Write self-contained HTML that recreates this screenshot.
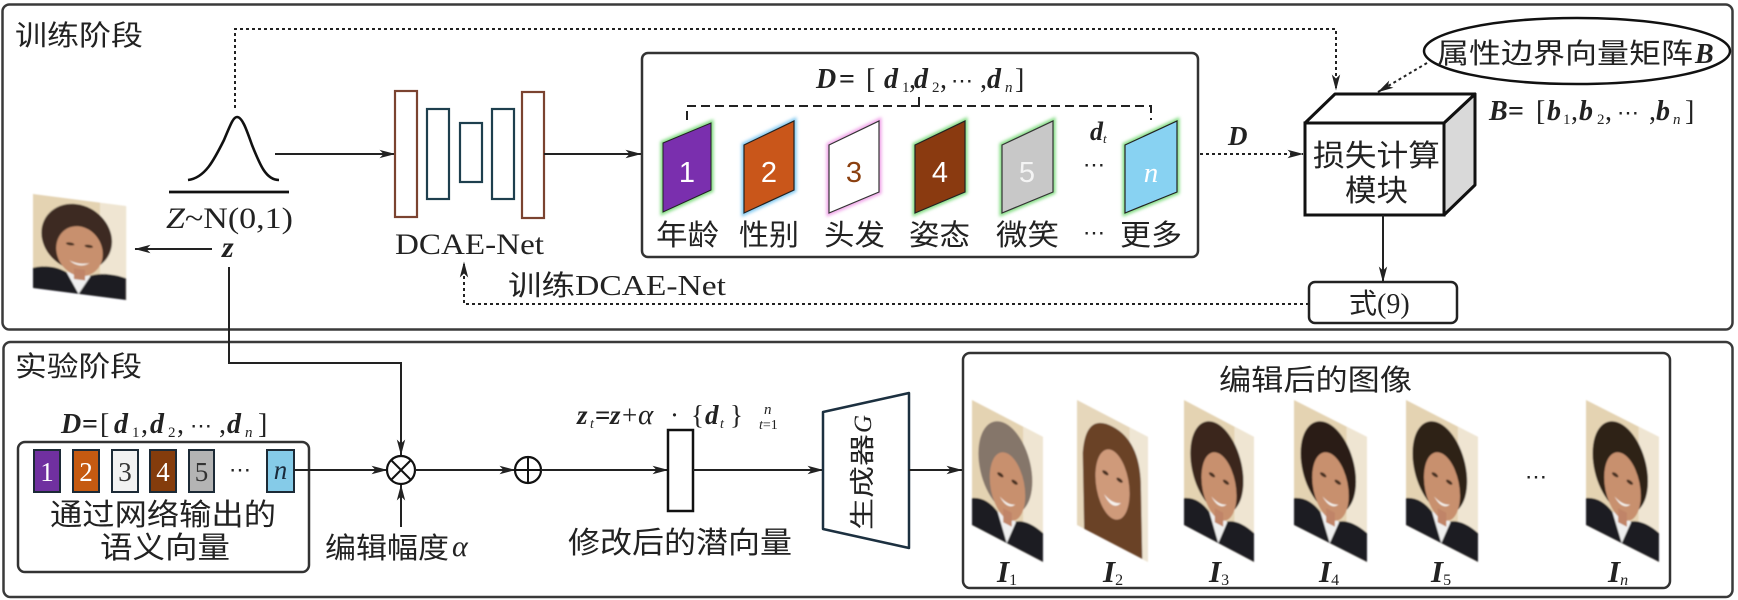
<!DOCTYPE html>
<html><head><meta charset="utf-8"><style>
html,body{margin:0;padding:0;background:#fff;}
svg{display:block;}
.cj{font-family:"Liberation Sans","Noto Sans CJK SC",sans-serif;fill:#222;}
.sr{font-family:"Liberation Serif","DejaVu Serif",serif;fill:#222;}
.bi{font-weight:bold;font-style:italic;}
.it{font-style:italic;}
</style></head><body>
<svg width="1738" height="600" viewBox="0 0 1738 600" xmlns="http://www.w3.org/2000/svg">
<defs>
<marker id="ah" viewBox="0 0 16 10" refX="15.5" refY="5" markerWidth="16" markerHeight="10" markerUnits="userSpaceOnUse" orient="auto"><path d="M0,0.8 L16,5 L0,9.2 L4,5z" fill="#222"/></marker>
<filter id="bl" x="-20%" y="-20%" width="140%" height="140%"><feGaussianBlur stdDeviation="0.9"/></filter>
<filter id="gl" x="-30%" y="-30%" width="160%" height="160%"><feGaussianBlur stdDeviation="1.6"/></filter>
<g id="faceM">
 <rect width="100" height="125" fill="#e4d3b2"/>
 <rect x="72" width="28" height="125" fill="#efe5d2"/>
 <ellipse cx="47" cy="50" rx="38" ry="44" fill="currentColor"/>
 <path d="M0,98 Q28,86 48,108 Q70,88 100,96 L100,125 L0,125Z" fill="#1e1e24"/>
 <path d="M36,98 L49,125 L62,99 Z" fill="#efefef"/>
 <ellipse cx="50" cy="68" rx="25" ry="33" fill="#c8906e"/>
 <rect x="44" y="92" width="12" height="14" fill="#c08468"/>
 <ellipse cx="40" cy="60" rx="4.5" ry="2" fill="#4a3020"/>
 <ellipse cx="60" cy="60" rx="4.5" ry="2" fill="#4a3020"/>
 <path d="M39,82 Q50,92 61,82 Q50,87 39,82Z" fill="#f4f0ea"/>
</g>
<g id="faceW">
 <rect width="100" height="125" fill="#e6d7bb"/>
 <rect x="74" width="26" height="125" fill="#efe6d4"/>
 <path d="M10,125 L8,50 Q12,8 50,8 Q88,8 90,50 L92,125Z" fill="#6a4228"/>
 <ellipse cx="50" cy="66" rx="24" ry="34" fill="#cf9a7a"/>
 <ellipse cx="40" cy="58" rx="4.5" ry="2" fill="#4a3020"/>
 <ellipse cx="60" cy="58" rx="4.5" ry="2" fill="#4a3020"/>
 <path d="M38,80 Q50,93 62,80 Q50,86 38,80Z" fill="#f6f2ee"/>
</g>
</defs>

<!-- outer boxes -->
<rect x="2.5" y="4.5" width="1730" height="325" rx="7" fill="none" stroke="#3a3a3a" stroke-width="2.5"/>
<rect x="3.5" y="342" width="1729" height="255" rx="7" fill="none" stroke="#3a3a3a" stroke-width="2.5"/>

<text class="cj" x="15" y="45" font-size="28" textLength="128" lengthAdjust="spacingAndGlyphs">训练阶段</text>
<text class="cj" x="15" y="376" font-size="28" textLength="127" lengthAdjust="spacingAndGlyphs">实验阶段</text>

<!-- gaussian -->
<path d="M188,180 C205,178 214,160 224,140 C230,126 233,117 237,117 C242,117 246,128 252,145 C260,165 266,180 279,180" fill="none" stroke="#111" stroke-width="2.6"/>
<line x1="169" y1="192" x2="289" y2="192" stroke="#111" stroke-width="2.8"/>
<text class="sr" x="166" y="228" font-size="30" textLength="127" lengthAdjust="spacingAndGlyphs"><tspan class="it">Z</tspan>~N(0,1)</text>
<text class="sr bi" x="222" y="257" font-size="30">z</text>

<!-- dotted top route -->
<path d="M235,108 V29 H1336 V90" fill="none" stroke="#222" stroke-width="2" stroke-dasharray="3,3" marker-end="url(#ah)"/>

<!-- top left face -->
<g transform="matrix(0.93,0.12,0,0.752,33,194)" filter="url(#bl)"><use href="#faceM" color="#3c2a20"/></g>
<line x1="212" y1="249" x2="135" y2="249" stroke="#222" stroke-width="2" marker-end="url(#ah)"/>

<!-- gaussian to DCAE -->
<line x1="275" y1="154" x2="395" y2="154" stroke="#222" stroke-width="2" marker-end="url(#ah)"/>
<g fill="#fff" stroke-width="2.2">
 <rect x="395" y="91" width="22" height="126" stroke="#7b4330"/>
 <rect x="427" y="109" width="22" height="90" stroke="#1e3f4e"/>
 <rect x="460" y="123" width="22" height="59" stroke="#1e3f4e"/>
 <rect x="492" y="109" width="22" height="90" stroke="#1e3f4e"/>
 <rect x="522" y="92" width="22" height="126" stroke="#7b4330"/>
</g>
<text class="sr" x="395" y="254" font-size="30" textLength="149" lengthAdjust="spacingAndGlyphs">DCAE-Net</text>
<line x1="544" y1="154" x2="641" y2="154" stroke="#222" stroke-width="2" marker-end="url(#ah)"/>

<!-- attribute box -->
<rect x="642" y="53" width="556" height="204" rx="6" fill="none" stroke="#333" stroke-width="2.5"/>
<text class="sr" y="88" font-size="28"><tspan x="816" class="bi">D</tspan><tspan x="839" font-weight="bold">=</tspan><tspan x="866">[</tspan><tspan x="884" class="bi">d</tspan><tspan x="902" dy="4" font-size="15">1</tspan><tspan x="909" dy="-4">,</tspan><tspan x="914" class="bi">d</tspan><tspan x="932" dy="4" font-size="15">2</tspan><tspan x="940" dy="-4">,</tspan><tspan x="951" font-size="22">⋯</tspan><tspan x="980">,</tspan><tspan x="987" class="bi">d</tspan><tspan x="1005" dy="4" font-size="15" class="it">n</tspan><tspan x="1015" dy="-4">]</tspan></text>
<path d="M687,120 V106 H1151 V120 M919,106 V97" fill="none" stroke="#222" stroke-width="2" stroke-dasharray="9,5"/>

<!-- tiles -->
<g>
 <polygon points="663,143 711,123 711,190 663,212" fill="none" stroke="#7fdc7f" stroke-width="5" filter="url(#gl)"/>
 <polygon points="663,143 711,123 711,190 663,212" fill="#7a2fae" stroke="#222" stroke-width="1"/>
 <polygon points="744,145 794,121 794,190 744,213" fill="none" stroke="#7fc8f0" stroke-width="5" filter="url(#gl)"/>
 <polygon points="744,145 794,121 794,190 744,213" fill="#c9561a" stroke="#222" stroke-width="1.2"/>
 <polygon points="829,145 879,121 879,192 829,213" fill="none" stroke="#f0a0e8" stroke-width="5" filter="url(#gl)"/>
 <polygon points="829,145 879,121 879,192 829,213" fill="#fff" stroke="#333" stroke-width="1.2"/>
 <polygon points="915,145 965,121 965,192 915,213" fill="none" stroke="#7fdc7f" stroke-width="5" filter="url(#gl)"/>
 <polygon points="915,145 965,121 965,192 915,213" fill="#8a3a10" stroke="#222" stroke-width="1.2"/>
 <polygon points="1002,145 1053,121 1053,192 1002,213" fill="none" stroke="#7fdc7f" stroke-width="5" filter="url(#gl)"/>
 <polygon points="1002,145 1053,121 1053,192 1002,213" fill="#c8c8c8" stroke="#333" stroke-width="1.2"/>
 <polygon points="1125,145 1177,121 1177,192 1125,213" fill="none" stroke="#7fdc7f" stroke-width="5" filter="url(#gl)"/>
 <polygon points="1125,145 1177,121 1177,192 1125,213" fill="#88d2f2" stroke="#222" stroke-width="1.2"/>
</g>
<g font-family="Liberation Sans, sans-serif" font-size="29" text-anchor="middle">
 <text x="687" y="182" fill="#fff">1</text>
 <text x="769" y="182" fill="#fff">2</text>
 <text x="854" y="182" fill="#8b4010">3</text>
 <text x="940" y="182" fill="#fff">4</text>
 <text x="1027" y="182" fill="#f4f4f4">5</text>
 <text x="1151" y="182" fill="#fff" font-family="Liberation Serif, serif" font-style="italic">n</text>
</g>
<text class="sr" x="1083" y="172" font-size="22">⋯</text>
<text class="sr bi" x="1090" y="140" font-size="26">d<tspan font-size="13" dy="3" font-weight="normal">t</tspan></text>
<g class="cj" font-size="29">
 <text x="656" y="245" textLength="63" lengthAdjust="spacingAndGlyphs">年龄</text>
 <text x="739" y="245" textLength="60" lengthAdjust="spacingAndGlyphs">性别</text>
 <text x="824" y="245" textLength="61" lengthAdjust="spacingAndGlyphs">头发</text>
 <text x="909" y="245" textLength="61" lengthAdjust="spacingAndGlyphs">姿态</text>
 <text x="996" y="245" textLength="63" lengthAdjust="spacingAndGlyphs">微笑</text>
 <text x="1120" y="245" textLength="62" lengthAdjust="spacingAndGlyphs">更多</text>
</g>
<text class="sr" x="1083" y="240" font-size="22">⋯</text>

<!-- D dotted to loss box -->
<line x1="1200" y1="154" x2="1303" y2="154" stroke="#222" stroke-width="2" stroke-dasharray="3,3" marker-end="url(#ah)"/>
<text class="sr bi" x="1228" y="145" font-size="27">D</text>

<!-- 3D box -->
<polygon points="1444,123 1475,94 1475,185 1444,215" fill="#d9d9d9" stroke="#111" stroke-width="3" stroke-linejoin="round"/>
<polygon points="1305,123 1335,94 1475,94 1444,123" fill="#fff" stroke="#111" stroke-width="3" stroke-linejoin="round"/>
<rect x="1305" y="123" width="139" height="92" fill="#fff" stroke="#111" stroke-width="3"/>
<text class="cj" x="1313" y="166" font-size="30" textLength="127" lengthAdjust="spacingAndGlyphs">损失计算</text>
<text class="cj" x="1345" y="201" font-size="30" textLength="63" lengthAdjust="spacingAndGlyphs">模块</text>

<!-- ellipse -->
<ellipse cx="1577" cy="51" rx="153" ry="33" fill="#fff" stroke="#111" stroke-width="2.5"/>
<text class="cj" x="1437" y="63" font-size="28" textLength="256" lengthAdjust="spacingAndGlyphs">属性边界向量矩阵</text>
<text class="sr bi" x="1695" y="63" font-size="28">B</text>
<line x1="1427" y1="63" x2="1378" y2="92" stroke="#222" stroke-width="2" stroke-dasharray="3,3" marker-end="url(#ah)"/>
<text class="sr" y="120" font-size="28"><tspan x="1489" class="bi">B</tspan><tspan x="1508" font-weight="bold">=</tspan><tspan x="1536">[</tspan><tspan x="1547" class="bi">b</tspan><tspan x="1563" dy="4" font-size="15">1</tspan><tspan x="1571" dy="-4">,</tspan><tspan x="1579" class="bi">b</tspan><tspan x="1597" dy="4" font-size="15">2</tspan><tspan x="1605" dy="-4">,</tspan><tspan x="1617" font-size="22">⋯</tspan><tspan x="1649">,</tspan><tspan x="1656" class="bi">b</tspan><tspan x="1673" dy="4" font-size="15" class="it">n</tspan><tspan x="1685" dy="-4">]</tspan></text>

<!-- down to formula -->
<line x1="1383" y1="215" x2="1383" y2="282" stroke="#222" stroke-width="2" marker-end="url(#ah)"/>
<rect x="1309" y="282" width="148" height="41" rx="6" fill="#fff" stroke="#222" stroke-width="2.5"/>
<text class="cj" x="1349" y="313" font-size="28">式<tspan font-family="Liberation Serif, serif">(9)</tspan></text>
<path d="M1309,304 H464 V262" fill="none" stroke="#222" stroke-width="2" stroke-dasharray="3,3" marker-end="url(#ah)"/>
<text class="cj" x="508" y="295" font-size="28" textLength="218" lengthAdjust="spacingAndGlyphs">训练<tspan font-family="Liberation Serif, serif">DCAE-Net</tspan></text>

<!-- bottom: z down to otimes -->
<path d="M229,267 V363 H401 V455" fill="none" stroke="#222" stroke-width="2" marker-end="url(#ah)"/>

<text class="sr" y="433" font-size="28"><tspan x="61" class="bi">D</tspan><tspan x="82" font-weight="bold">=</tspan><tspan x="100">[</tspan><tspan x="114" class="bi">d</tspan><tspan x="132" dy="4" font-size="15">1</tspan><tspan x="141" dy="-4">,</tspan><tspan x="150" class="bi">d</tspan><tspan x="168" dy="4" font-size="15">2</tspan><tspan x="177" dy="-4">,</tspan><tspan x="190" font-size="22">⋯</tspan><tspan x="219">,</tspan><tspan x="227" class="bi">d</tspan><tspan x="245" dy="4" font-size="15" class="it">n</tspan><tspan x="258" dy="-4">]</tspan></text>

<rect x="18" y="442" width="291" height="130" rx="7" fill="none" stroke="#333" stroke-width="2.5"/>
<g stroke="#1c2a36" stroke-width="2">
 <rect x="34" y="450" width="26" height="42" fill="#7030a0"/>
 <rect x="73" y="450" width="26" height="42" fill="#c55a11"/>
 <rect x="112" y="450" width="26" height="42" fill="#f2f2f2"/>
 <rect x="150" y="450" width="26" height="42" fill="#843c0c"/>
 <rect x="189" y="450" width="25" height="42" fill="#b4b4b4"/>
 <rect x="267" y="450" width="27" height="42" fill="#85cbe8"/>
</g>
<g class="sr" font-size="27" text-anchor="middle">
 <text x="47" y="481" fill="#fff">1</text>
 <text x="86" y="481" fill="#fff">2</text>
 <text x="125" y="481" fill="#333">3</text>
 <text x="163" y="481" fill="#fff">4</text>
 <text x="201.5" y="481" fill="#333">5</text>
 <text x="280.5" y="479" fill="#1a2a3a" font-style="italic">n</text>
</g>
<text class="sr" x="229" y="477" font-size="22">⋯</text>
<text class="cj" x="50" y="525" font-size="30" textLength="226" lengthAdjust="spacingAndGlyphs">通过网络输出的</text>
<text class="cj" x="100" y="558" font-size="30" textLength="130" lengthAdjust="spacingAndGlyphs">语义向量</text>

<line x1="294" y1="470" x2="387" y2="470" stroke="#222" stroke-width="2" marker-end="url(#ah)"/>
<circle cx="401" cy="470" r="14" fill="#fff" stroke="#111" stroke-width="2.2"/>
<path d="M391,460 L411,480 M411,460 L391,480" stroke="#111" stroke-width="2"/>
<line x1="401" y1="527" x2="401" y2="485" stroke="#222" stroke-width="2" marker-end="url(#ah)"/>
<text class="cj" x="325" y="558" font-size="29" textLength="124" lengthAdjust="spacingAndGlyphs">编辑幅度</text>
<text class="sr it" x="452" y="556" font-size="30">α</text>

<line x1="415" y1="470" x2="515" y2="470" stroke="#222" stroke-width="2" marker-end="url(#ah)"/>
<circle cx="528" cy="470" r="13" fill="#fff" stroke="#111" stroke-width="2.2"/>
<path d="M515,470 H541 M528,457 V483" stroke="#111" stroke-width="2"/>
<line x1="541" y1="470" x2="668" y2="470" stroke="#222" stroke-width="2" marker-end="url(#ah)"/>

<!-- formula -->
<g class="sr" font-size="27">
 <text x="577" y="424" class="bi">z</text>
 <text x="590" y="428" font-size="14" class="it">t</text>
 <text x="595" y="424" font-weight="bold">=</text>
 <text x="610" y="424" class="bi">z</text>
 <text x="622" y="424">+</text>
 <text x="638" y="424" class="it" font-size="29">α</text>
 <text x="670" y="424">·</text>
 <text x="691" y="424">{</text>
 <text x="705" y="424" class="bi">d</text>
 <text x="720" y="428" font-size="14" class="it">t</text>
 <text x="730" y="424">}</text>
 <text x="764" y="414" font-size="15" class="it">n</text>
 <text x="759" y="429" font-size="14"><tspan class="it">t</tspan>=1</text>
</g>
<rect x="668" y="430" width="25" height="81" fill="#fff" stroke="#111" stroke-width="2.5"/>
<text class="cj" x="568" y="553" font-size="30" textLength="224" lengthAdjust="spacingAndGlyphs">修改后的潜向量</text>
<line x1="693" y1="470" x2="823" y2="470" stroke="#222" stroke-width="2" marker-end="url(#ah)"/>

<!-- generator -->
<polygon points="823,412 909,393 909,548 823,529" fill="#fff" stroke="#1c3040" stroke-width="2.5" stroke-linejoin="round"/>
<g transform="translate(871,530) rotate(-90)">
 <text class="cj" x="0" y="0" font-size="25" textLength="96" lengthAdjust="spacingAndGlyphs">生成器</text>
 <text class="sr it" x="97" y="0" font-size="25">G</text>
</g>
<line x1="909" y1="470" x2="962" y2="470" stroke="#222" stroke-width="2" marker-end="url(#ah)"/>

<!-- edited images -->
<rect x="963" y="353" width="707" height="235" rx="7" fill="none" stroke="#333" stroke-width="2.5"/>
<text class="cj" x="1219" y="390" font-size="29" textLength="193" lengthAdjust="spacingAndGlyphs">编辑后的图像</text>
<g filter="url(#bl)">
 <g transform="matrix(0.71,0.37,0,1,972,400)"><use href="#faceM" color="#85766a"/></g>
 <g transform="matrix(0.71,0.37,0,1,1077,400)"><use href="#faceW"/></g>
 <g transform="matrix(0.70,0.37,0,1,1184,400)"><use href="#faceM" color="#3a281c"/></g>
 <g transform="matrix(0.73,0.37,0,1,1294,400)"><use href="#faceM" color="#2a1c14"/></g>
 <g transform="matrix(0.72,0.37,0,1,1406,400)"><use href="#faceM" color="#2e2018"/></g>
 <g transform="matrix(0.73,0.37,0,1,1586,400)"><use href="#faceM" color="#2e2018"/></g>
</g>
<text class="sr" x="1525" y="484" font-size="22">⋯</text>
<g class="sr" font-size="31">
 <text x="997" y="582" class="bi">I<tspan font-size="16" font-weight="normal" font-style="normal" dy="3">1</tspan></text>
 <text x="1103" y="582" class="bi">I<tspan font-size="16" font-weight="normal" font-style="normal" dy="3">2</tspan></text>
 <text x="1209" y="582" class="bi">I<tspan font-size="16" font-weight="normal" font-style="normal" dy="3">3</tspan></text>
 <text x="1319" y="582" class="bi">I<tspan font-size="16" font-weight="normal" font-style="normal" dy="3">4</tspan></text>
 <text x="1431" y="582" class="bi">I<tspan font-size="16" font-weight="normal" font-style="normal" dy="3">5</tspan></text>
 <text x="1608" y="582" class="bi">I<tspan font-size="16" font-weight="normal" dy="3">n</tspan></text>
</g>
</svg>
</body></html>
